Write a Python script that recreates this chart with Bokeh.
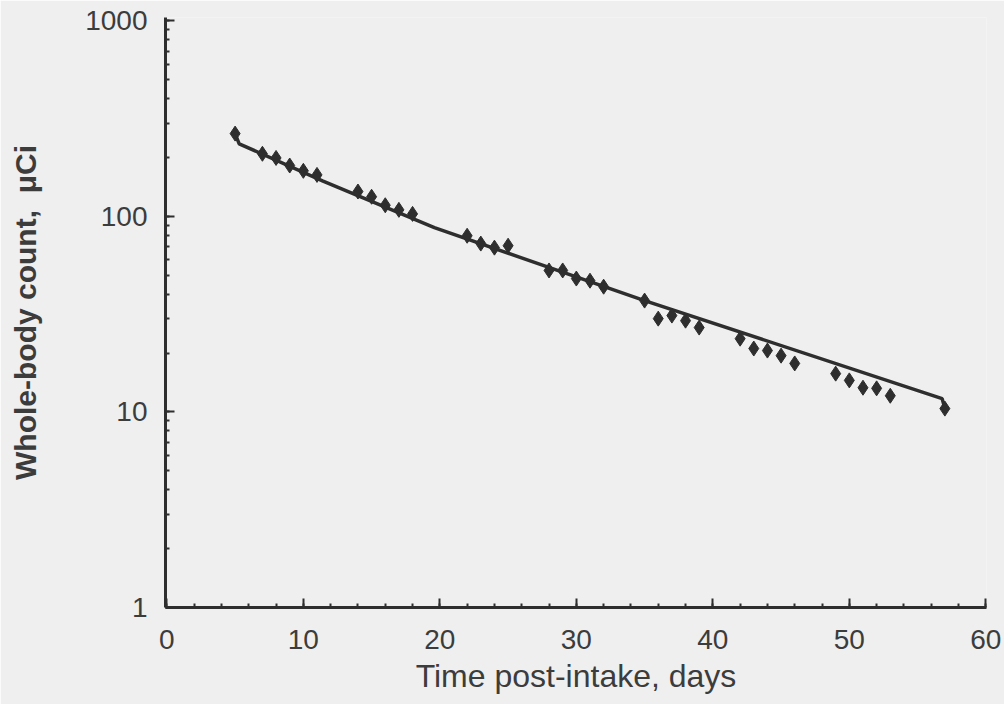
from bokeh.plotting import figure
from bokeh.models import SingleIntervalTicker, LogTicker, PrintfTickFormatter, Range1d
from bokeh.embed import file_html
from bokeh.resources import INLINE

# Measured whole-body counts (days post-intake, uCi)
days = [5, 7, 8, 9, 10, 11, 14, 15, 16, 17, 18,
        22, 23, 24, 25, 28, 29, 30, 31, 32,
        35, 36, 37, 38, 39, 42, 43, 44, 45, 46,
        49, 50, 51, 52, 53, 57]
counts = [265, 209, 199, 182, 171, 163, 134, 126, 114, 108, 103,
          79.6, 72.6, 69.2, 70.8, 52.9, 52.9, 48.1, 46.9, 43.7,
          37.1, 30.0, 31.1, 29.3, 27.0, 23.7, 21.1, 20.6, 19.4, 17.7,
          15.7, 14.5, 13.3, 13.2, 12.1, 10.4]

# Fitted retention curve
fit_days = [5, 5.3, 11.4, 19.6, 35.0, 56.8, 57]
fit_counts = [265, 235, 152, 87.6, 37.1, 11.7, 10.4]

x_tick_labels = ["0", "10", "20", "30", "40", "50", "60"]

bg = "#efefef"
ink = "#2e2e2e"
txt = "#3c3c3c"

p = figure(width=1004, height=704, y_axis_type="log",
           x_range=Range1d(-0.1, 60.05), y_range=Range1d(1, 1040),
           output_backend="svg", toolbar_location=None,
           background_fill_color=bg, border_fill_color=bg,
           min_border_left=165, min_border_right=18,
           min_border_top=17, min_border_bottom=97)
p.outline_line_color = None
p.grid.visible = False

p.line(fit_days, fit_counts, line_color=ink, line_width=3.5)
p.scatter(days, counts, marker="diamond", size=15, fill_color=ink,
          line_color=ink, line_width=1)

for ax in (p.xaxis[0], p.yaxis[0]):
    ax.axis_line_color = ink
    ax.axis_line_width = 3
    ax.major_tick_line_color = ink
    ax.minor_tick_line_color = ink
    ax.major_tick_line_width = 2
    ax.minor_tick_line_width = 2
    ax.major_tick_out = 0
    ax.minor_tick_out = 0
    ax.major_tick_in = 9
    ax.minor_tick_in = 4
    ax.major_label_text_font = "Liberation Sans"
    ax.major_label_text_font_size = "28px"
    ax.major_label_text_color = txt
    ax.major_label_text_font_style = "normal"
    ax.axis_label_text_font = "Liberation Sans"
    ax.axis_label_text_color = txt

p.xaxis.ticker = SingleIntervalTicker(interval=10, num_minor_ticks=5)
p.xaxis.major_label_overrides = {i * 10: s for i, s in enumerate(x_tick_labels)}
p.xaxis.major_label_standoff = 22
p.xaxis.axis_label = "Time post-intake, days"
p.xaxis.axis_label_text_font_size = "32px"
p.xaxis.axis_label_text_font_style = "normal"
p.xaxis.axis_label_standoff = 6

p.yaxis.ticker = LogTicker(num_minor_ticks=10)
p.yaxis.formatter = PrintfTickFormatter(format="%d")
p.yaxis.major_label_standoff = 18
p.yaxis.axis_label = "Whole-body count,\u00a0\u00a0μCi"
p.yaxis.axis_label_text_font_size = "30px"
p.yaxis.axis_label_text_font_style = "bold"
p.yaxis.axis_label_standoff = 40

open("out.html", "w").write(file_html(p, INLINE))
